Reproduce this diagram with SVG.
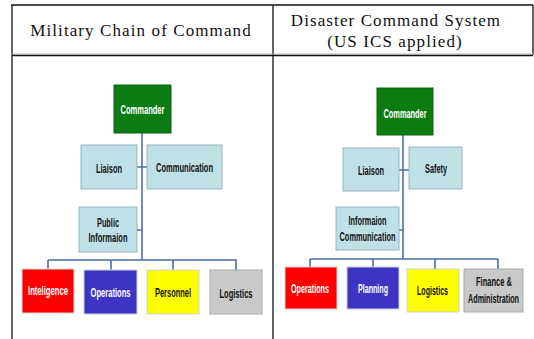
<svg xmlns="http://www.w3.org/2000/svg" width="534" height="339" viewBox="0 0 534 339">
<style>
.hdr{font-family:"Liberation Serif","DejaVu Serif",serif;font-size:17px;fill:#111;text-anchor:middle;letter-spacing:1.1px}
.tbl{stroke:#111;stroke-width:1.3;fill:none}
.lb rect{fill:#bfe1e5;stroke:#93b3bb;stroke-width:1}
.box text{font-family:"Liberation Sans Narrow","Liberation Sans",Arial,sans-serif;font-weight:bold;font-size:12px;text-anchor:middle}
.dark{fill:#fff}
.lt{fill:#111}
.conn{stroke:#4a6fa5;stroke-width:1.6;fill:none}
</style>
<rect x="0" y="0" width="534" height="339" fill="#fff"/>
<g id="table">
<line class="tbl" x1="11" y1="5" x2="533" y2="5"/>
<line class="tbl" x1="12" y1="5" x2="12" y2="339"/>
<line class="tbl" x1="533" y1="5" x2="533" y2="55"/>
<line class="tbl" x1="273" y1="5" x2="273" y2="339"/>
<line x1="12" y1="54" x2="533" y2="54" stroke="#bbb" stroke-width="1"/>
<line class="tbl" x1="12" y1="55.5" x2="533" y2="55.5"/>
<text class="hdr" x="141" y="36">Military Chain of Command</text>
<text class="hdr" x="396" y="26">Disaster Command System</text>
<text class="hdr" x="395" y="47">(US ICS applied)</text>
</g>
<g id="connectors">
<path class="conn" d="M142 133V260M137 167H147M137 230H142M48 260H237M48 260V269M111 260V270M173 260V270M236 260V270"/>
<path class="conn" d="M403 135V259M399 170H409M399 230H403M310 259H498M310 259V267M373 259V267M435 259V269M498 259V269"/>
</g>
<g id="l-commander" class="box"><rect x="114" y="85" width="57" height="48" fill="#0b7b12" stroke="#0a6410"/><text class="dark" x="142.5" y="113.5" textLength="44" lengthAdjust="spacingAndGlyphs">Commander</text></g>
<g id="l-liaison" class="box lb"><rect x="81" y="145" width="56" height="44"/><text class="lt" x="109" y="172.5" textLength="26" lengthAdjust="spacingAndGlyphs">Liaison</text></g>
<g id="l-communication" class="box lb"><rect x="147" y="145" width="75" height="44"/><text class="lt" x="184.5" y="171.5" textLength="57" lengthAdjust="spacingAndGlyphs">Communication</text></g>
<g id="l-public" class="box lb"><rect x="79" y="207" width="58" height="45"/><text class="lt" x="108" y="226.5" textLength="22" lengthAdjust="spacingAndGlyphs">Public</text><text class="lt" x="108" y="241.5" textLength="39" lengthAdjust="spacingAndGlyphs">Informaion</text></g>
<g id="l-intelligence" class="box"><rect x="22" y="269" width="52" height="44" fill="#f00" stroke="#d8d8d8"/><text class="dark" x="48" y="294.5" textLength="40" lengthAdjust="spacingAndGlyphs">Inteligence</text></g>
<g id="l-operations" class="box"><rect x="84" y="270" width="53" height="44" fill="#3c34c2" stroke="#d0d0d0"/><text class="dark" x="110.5" y="296.5" textLength="40" lengthAdjust="spacingAndGlyphs">Operations</text></g>
<g id="l-personnel" class="box"><rect x="147" y="270" width="52" height="44" fill="#ff0" stroke="#d0d0d0"/><text class="lt" x="173" y="296.5" textLength="36" lengthAdjust="spacingAndGlyphs">Personnel</text></g>
<g id="l-logistics" class="box"><rect x="210" y="270" width="52" height="44" fill="#c9c9c9" stroke="#aaa"/><text class="lt" x="236" y="297.5" textLength="33" lengthAdjust="spacingAndGlyphs">Logistics</text></g>
<g id="r-commander" class="box"><rect x="377" y="88" width="56" height="47" fill="#0b7b12" stroke="#0a6410"/><text class="dark" x="405" y="117.5" textLength="43" lengthAdjust="spacingAndGlyphs">Commander</text></g>
<g id="r-liaison" class="box lb"><rect x="343" y="148" width="56" height="43"/><text class="lt" x="371" y="174.5" textLength="26" lengthAdjust="spacingAndGlyphs">Liaison</text></g>
<g id="r-safety" class="box lb"><rect x="409" y="147" width="53" height="42"/><text class="lt" x="436" y="172.5" textLength="22" lengthAdjust="spacingAndGlyphs">Safety</text></g>
<g id="r-infocomm" class="box lb"><rect x="336" y="207" width="63" height="43"/><text class="lt" x="367.5" y="224.5" textLength="38" lengthAdjust="spacingAndGlyphs">Informaion</text><text class="lt" x="367.5" y="240.5" textLength="56" lengthAdjust="spacingAndGlyphs">Communication</text></g>
<g id="r-operations" class="box"><rect x="285" y="267" width="52" height="42" fill="#f00" stroke="#d0d0d0"/><text class="dark" x="310" y="292.5" textLength="38" lengthAdjust="spacingAndGlyphs">Operations</text></g>
<g id="r-planning" class="box"><rect x="347" y="267" width="52" height="42" fill="#3c34c2" stroke="#d0d0d0"/><text class="dark" x="373" y="292.5" textLength="30" lengthAdjust="spacingAndGlyphs">Planning</text></g>
<g id="r-logistics" class="box"><rect x="407" y="269" width="52" height="43" fill="#ff0" stroke="#d0d0d0"/><text class="lt" x="432.5" y="294.5" textLength="31" lengthAdjust="spacingAndGlyphs">Logistics</text></g>
<g id="r-finance" class="box"><rect x="464" y="269" width="59" height="43" fill="#c9c9c9" stroke="#aaa"/><text class="lt" x="494" y="285.5" textLength="36" lengthAdjust="spacingAndGlyphs">Finance &amp;</text><text class="lt" x="493.5" y="302.5" textLength="51" lengthAdjust="spacingAndGlyphs">Administration</text></g>
</svg>
